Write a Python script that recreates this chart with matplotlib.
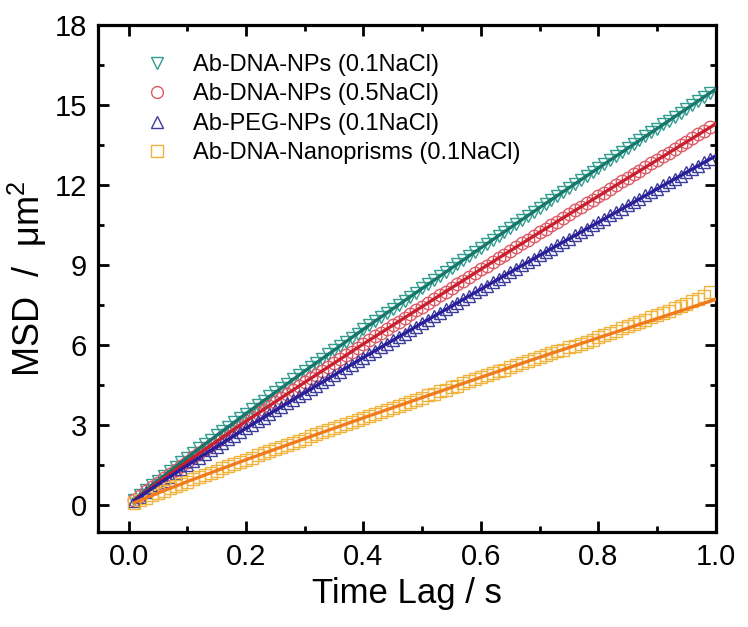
import matplotlib
matplotlib.use("Agg")
import matplotlib.pyplot as plt
from matplotlib.ticker import MultipleLocator

plt.rcParams['font.family'] = ['Liberation Sans', 'DejaVu Sans']
plt.rcParams['mathtext.fontset'] = 'custom'
plt.rcParams['mathtext.rm'] = 'Liberation Sans'
plt.rcParams['mathtext.it'] = 'Liberation Sans:italic'

# ---- data ----
time_lag = [round(0.01 * i, 2) for i in range(1, 100)]

dna_01 = [0.21, 0.39, 0.58, 0.76, 0.93, 1.11, 1.28, 1.45, 1.62, 1.79,
          1.96, 2.13, 2.29, 2.46, 2.62, 2.79, 2.95, 3.11, 3.27, 3.44,
          3.60, 3.76, 3.92, 4.08, 4.24, 4.40, 4.56, 4.72, 4.87, 5.03,
          5.19, 5.35, 5.50, 5.66, 5.81, 5.97, 6.13, 6.28, 6.44, 6.60,
          6.75, 6.91, 7.06, 7.21, 7.36, 7.52, 7.67, 7.82, 7.97, 8.13,
          8.28, 8.44, 8.59, 8.74, 8.90, 9.04, 9.19, 9.35, 9.50, 9.65,
          9.80, 9.95, 10.10, 10.25, 10.40, 10.56, 10.71, 10.86, 11.01, 11.16,
          11.31, 11.46, 11.60, 11.75, 11.91, 12.06, 12.20, 12.35, 12.50, 12.64,
          12.79, 12.95, 13.09, 13.24, 13.39, 13.54, 13.68, 13.84, 13.98, 14.12,
          14.28, 14.42, 14.57, 14.72, 14.86, 15.01, 15.16, 15.30, 15.46]

dna_05 = [0.19, 0.36, 0.53, 0.70, 0.85, 1.02, 1.17, 1.33, 1.49, 1.64,
          1.80, 1.95, 2.10, 2.26, 2.40, 2.56, 2.70, 2.85, 3.00, 3.15,
          3.30, 3.45, 3.59, 3.74, 3.89, 4.03, 4.18, 4.33, 4.46, 4.61,
          4.76, 4.90, 5.04, 5.19, 5.33, 5.47, 5.62, 5.76, 5.90, 6.05,
          6.19, 6.33, 6.47, 6.61, 6.75, 6.89, 7.03, 7.17, 7.31, 7.45,
          7.59, 7.74, 7.87, 8.01, 8.16, 8.29, 8.42, 8.57, 8.71, 8.85,
          8.98, 9.12, 9.26, 9.40, 9.53, 9.68, 9.82, 9.96, 10.09, 10.23,
          10.37, 10.51, 10.63, 10.77, 10.92, 11.06, 11.18, 11.32, 11.46, 11.59,
          11.72, 11.87, 12.00, 12.14, 12.27, 12.41, 12.54, 12.69, 12.82, 12.94,
          13.09, 13.22, 13.36, 13.49, 13.62, 13.76, 13.90, 14.03, 14.17]

peg_01 = [0.18, 0.33, 0.49, 0.64, 0.78, 0.93, 1.07, 1.22, 1.36, 1.50,
          1.65, 1.79, 1.92, 2.07, 2.20, 2.34, 2.48, 2.61, 2.75, 2.89,
          3.02, 3.16, 3.29, 3.43, 3.56, 3.69, 3.83, 3.96, 4.09, 4.22,
          4.36, 4.49, 4.62, 4.75, 4.88, 5.01, 5.15, 5.27, 5.41, 5.54,
          5.67, 5.80, 5.93, 6.05, 6.18, 6.31, 6.44, 6.57, 6.69, 6.83,
          6.95, 7.09, 7.21, 7.34, 7.47, 7.59, 7.72, 7.85, 7.98, 8.10,
          8.23, 8.36, 8.48, 8.61, 8.73, 8.87, 8.99, 9.12, 9.25, 9.37,
          9.50, 9.62, 9.74, 9.87, 10.00, 10.13, 10.24, 10.37, 10.50, 10.61,
          10.74, 10.87, 10.99, 11.12, 11.24, 11.37, 11.49, 11.62, 11.74, 11.86,
          11.99, 12.11, 12.23, 12.36, 12.48, 12.60, 12.73, 12.85, 12.98]

prism_01 = [0.10, 0.19, 0.29, 0.38, 0.46, 0.55, 0.64, 0.72, 0.81, 0.89,
            0.97, 1.06, 1.14, 1.22, 1.30, 1.39, 1.47, 1.55, 1.63, 1.71,
            1.79, 1.87, 1.95, 2.03, 2.11, 2.19, 2.27, 2.35, 2.42, 2.50,
            2.58, 2.66, 2.73, 2.81, 2.89, 2.97, 3.05, 3.12, 3.20, 3.28,
            3.35, 3.43, 3.51, 3.58, 3.66, 3.74, 3.81, 3.89, 3.96, 4.04,
            4.12, 4.19, 4.27, 4.34, 4.42, 4.49, 4.57, 4.65, 4.72, 4.80,
            4.87, 4.95, 5.02, 5.09, 5.17, 5.25, 5.32, 5.40, 5.47, 5.55,
            5.62, 5.70, 5.77, 5.84, 5.92, 5.99, 6.06, 6.14, 6.21, 6.30,
            6.39, 6.47, 6.55, 6.63, 6.71, 6.79, 6.87, 6.96, 7.04, 7.12,
            7.21, 7.29, 7.38, 7.47, 7.56, 7.65, 7.74, 7.84, 7.98]

fit_x = [0.01, 0.05, 0.1, 0.2, 0.3, 0.4, 0.5, 0.6, 0.7, 0.8, 0.9, 1.0]
fit_dna_01 = [0.21, 0.93, 1.79, 3.44, 5.03, 6.60, 8.13, 9.65, 11.16, 12.64, 14.12, 15.60]
fit_dna_05 = [0.19, 0.85, 1.64, 3.15, 4.61, 6.05, 7.45, 8.85, 10.23, 11.59, 12.94, 14.30]
fit_peg_01 = [0.18, 0.78, 1.50, 2.89, 4.22, 5.54, 6.83, 8.10, 9.37, 10.61, 11.86, 13.10]
fit_prism_01 = [0.10, 0.46, 0.89, 1.71, 2.50, 3.28, 4.04, 4.80, 5.55, 6.28, 7.00, 7.72]

labels = ["Ab-DNA-NPs (0.1NaCl)", "Ab-DNA-NPs (0.5NaCl)",
          "Ab-PEG-NPs (0.1NaCl)", "Ab-DNA-Nanoprisms (0.1NaCl)"]

x_ticks = [0.0, 0.2, 0.4, 0.6, 0.8, 1.0]
x_tick_labels = ["0.0", "0.2", "0.4", "0.6", "0.8", "1.0"]
y_ticks = [0, 3, 6, 9, 12, 15, 18]
y_tick_labels = ["0", "3", "6", "9", "12", "15", "18"]

# ---- style ----
series = [
    (dna_01, fit_dna_01, 'v', '#2f9e90', '#17776c'),
    (dna_05, fit_dna_05, 'o', '#dc5a66', '#c8202e'),
    (peg_01, fit_peg_01, '^', '#3c3c9c', '#2a1e9a'),
    (prism_01, fit_prism_01, 's', '#f0b43c', '#f07a1e'),
]

fig = plt.figure(figsize=(7.48, 6.27), dpi=100)
ax = fig.add_axes([0.131, 0.1515, 0.826, 0.8085])

handles = []
for (ys, fit, mk, mc, lc), lab in zip(series, labels):
    ax.plot(time_lag, ys, linestyle='none', marker=mk, markersize=9,
            markerfacecolor='none', markeredgecolor=mc, markeredgewidth=1.0,
            zorder=2)
    ax.plot(fit_x, fit, color=lc, linewidth=2.4, zorder=3)
    h, = ax.plot([], [], linestyle='none', marker=mk, markersize=8.5,
                 markerfacecolor='none', markeredgecolor=mc,
                 markeredgewidth=1.0, label=lab)
    handles.append(h)

ax.set_xlim(-0.052, 1.0)
ax.set_ylim(-1.0, 18.0)
ax.set_xticks(x_ticks)
ax.set_xticklabels(x_tick_labels)
ax.set_yticks(y_ticks)
ax.set_yticklabels(y_tick_labels)
ax.xaxis.set_minor_locator(MultipleLocator(0.1))
ax.yaxis.set_minor_locator(MultipleLocator(1.5))

ax.tick_params(which='both', direction='in', top=True, right=True,
               labeltop=False, labelright=False, width=2.0)
ax.tick_params(which='major', length=8, labelsize=21, pad=8)
ax.tick_params(which='minor', length=4.5)
for s in ax.spines.values():
    s.set_linewidth(2.3)

ax.set_xlabel("Time Lag / s", fontsize=25, labelpad=4)
ax.set_ylabel("MSD  /  μm$^{2}$", fontsize=26, labelpad=4)

leg = ax.legend(handles=handles, loc='upper left', frameon=False,
                fontsize=17, bbox_to_anchor=(0.046, 0.976),
                handletextpad=0.9, labelspacing=0.32, handlelength=1.2,
                borderaxespad=0.3)

fig.savefig("out.png", dpi=100)
